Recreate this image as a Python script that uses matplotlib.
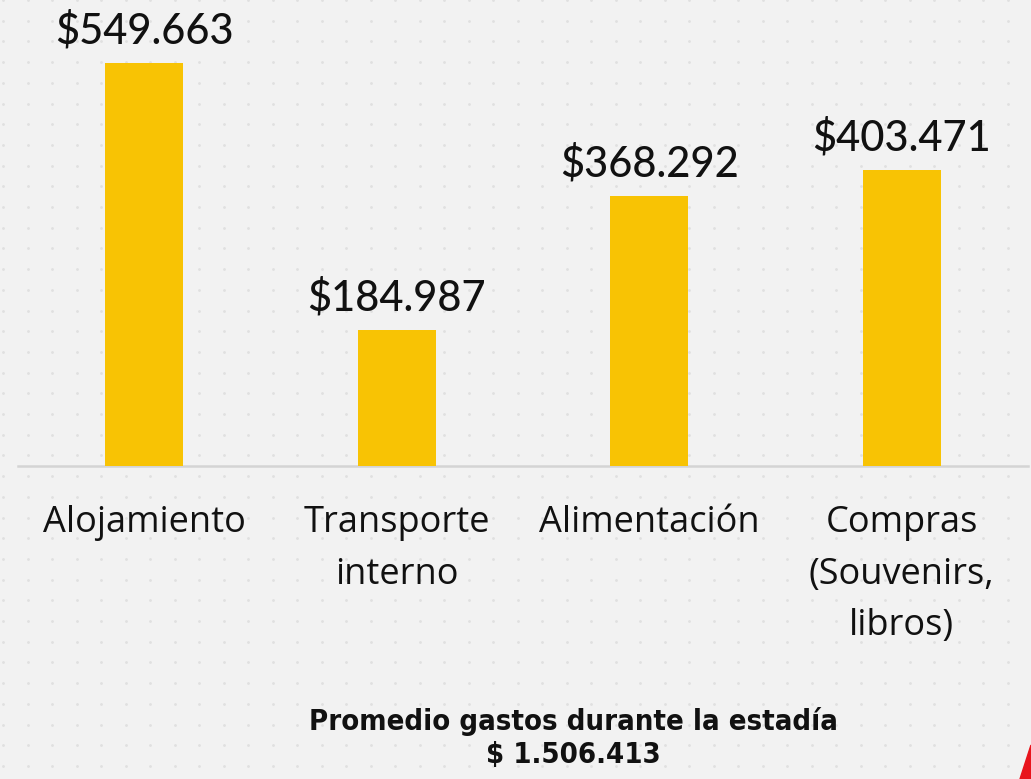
import matplotlib
matplotlib.use("Agg")
import matplotlib.pyplot as plt
import numpy as np

categories = ["Alojamiento", "Transporte\ninterno", "Alimentación", "Compras\n(Souvenirs,\nlibros)"]
values = [549.663, 184.987, 368.292, 403.471]
value_labels = ["$549.663", "$184.987", "$368.292", "$403.471"]
title_line1 = "Promedio gastos durante la estadía"
title_line2 = "$ 1.506.413"

W, H = 1031, 779
fig = plt.figure(figsize=(W / 100, H / 100), dpi=100)
fig.patch.set_facecolor("#f2f2f2")

# background dot pattern
bg = fig.add_axes([0, 0, 1, 1], zorder=-10)
bg.set_xlim(0, W)
bg.set_ylim(H, 0)
bg.axis("off")
xs = np.arange(3, W, 24.5)
ys = np.arange(0, H, 20.7)
gx, gy = np.meshgrid(xs, ys)
bg.scatter(gx.ravel(), gy.ravel(), s=4, color="#e0e0e0", linewidths=0)
# red corner accent
bg.add_patch(plt.Polygon([[1020, 779], [1031, 745], [1031, 779]], color="#e8141c"))

base = 466
ax = fig.add_axes([18 / W, 1 - base / H, (1028 - 18) / W, base / H])
ax.set_facecolor("none")
x = np.arange(len(categories))
bars = ax.bar(x, values, width=0.31, color="#f8c304", zorder=3)
ax.set_xlim(-0.5, 3.5)
ax.set_ylim(0, base / 0.733)
for s in ["top", "right", "left"]:
    ax.spines[s].set_visible(False)
ax.spines["bottom"].set_color("#d4d4d4")
ax.spines["bottom"].set_linewidth(1.8)
ax.set_yticks([])
ax.set_xticks(x)
ax.set_xticklabels(categories, fontsize=26, family="Open Sans", color="#111111",
                   linespacing=1.58, va="top")
ax.tick_params(axis="x", length=0, pad=28)

for xi, v, lab in zip(x, values, value_labels):
    ax.annotate(lab, (xi, v), xytext=(0, 9), textcoords="offset points",
                ha="center", va="bottom", fontsize=30, family="Lato",
                fontweight="medium", color="#111111", annotation_clip=False)

tkw = dict(ha="center", va="center", fontsize=21, fontweight="bold",
           family="DejaVu Sans", fontstretch="condensed", color="#111111")
fig.text(573 / W, 1 - 721 / H, title_line1, **tkw)
fig.text(573 / W, 1 - 755 / H, title_line2, **tkw)

fig.savefig("out.png", dpi=100, facecolor=fig.get_facecolor())
